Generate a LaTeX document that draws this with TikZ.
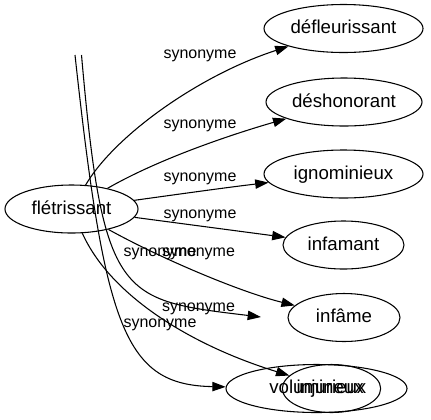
\documentclass[tikz,border=0pt]{standalone}
\usepackage{fontspec}
\setmainfont{Liberation Sans}
\usetikzlibrary{shapes.geometric,arrows.meta}
\tikzset{
  word/.style={draw,ellipse,inner sep=0pt,minimum height=36pt,text height=11pt,text depth=3pt,line width=0.8pt,font=\fontsize{14}{16}\selectfont},
  syn/.style={anchor=base,inner sep=0pt,font=\fontsize{12}{14}\selectfont},
  link/.style={black,solid,line width=0.8pt,-{Triangle[length=10pt,width=7pt]}}
}
\begin{document}
\begin{tikzpicture}[x=0.75pt,y=-0.75pt]
\useasboundingbox (0,0) rectangle (431,419);
\node[word,minimum width=99.75pt] (fletrissant) at (71.5,209) {flétrissant};
\node[word,minimum width=119.25pt] (defleurissant) at (343.5,28.5) {défleurissant};
\node[word,minimum width=117pt] (deshonorant) at (344,102) {déshonorant};
\node[word,minimum width=119.25pt] (ignominieux) at (343.5,174) {ignominieux};
\node[word,minimum width=90.75pt] (infamant) at (343.5,245) {infamant};
\node[word,minimum width=84pt] (infame) at (344,317.5) {infâme};
\node[word,minimum width=135.75pt] (volumineux) at (316.5,388.5) {volumineux};
\node[word,minimum width=72.75pt] (injurieux) at (331.5,388.5) {injurieux};
\coordinate (tailA) at (75,55);
\coordinate (tailB) at (81.5,55);
\coordinate (headB) at (261,317);
\draw[link] (fletrissant) .. controls (115,135) and (200,75) .. (defleurissant);
\draw[link] (fletrissant) .. controls (163,156.5) and (240,132) .. (deshonorant);
\draw[link] (fletrissant) .. controls (180,194) and (230,187) .. (ignominieux);
\draw[link] (fletrissant) -- (infamant);
\draw[link] (fletrissant) .. controls (160,258) and (240,292) .. (infame);
\draw[link] (fletrissant) .. controls (110,295) and (190,345) .. (injurieux);
\draw[link] (tailA) .. controls (105,330) and (125,385) .. (volumineux);
\draw[link] (tailB) .. controls (103,300) and (120,300) .. (headB);
\node[syn] (syn1) at (200,58) {synonyme};
\node[syn] (syn2) at (200,128) {synonyme};
\node[syn] (syn3) at (200,181.5) {synonyme};
\node[syn] (syn4) at (200,218) {synonyme};
\node[syn] (syn5) at (160,256) {synonyme};
\node[syn] (syn6) at (198.5,256) {synonyme};
\node[syn] (syn7) at (198.5,311) {synonyme};
\node[syn] (syn8) at (160,327) {synonyme};
\end{tikzpicture}
\end{document}
